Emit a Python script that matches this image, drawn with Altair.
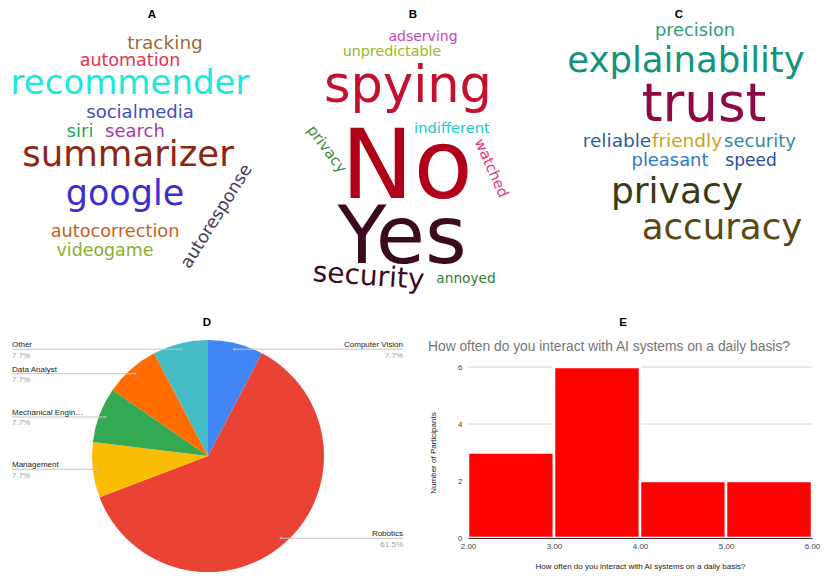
import altair as alt
import pandas as pd

# ---------------- data ----------------
words_a = ["tracking", "automation", "recommender", "socialmedia", "siri", "search",
           "summarizer", "google", "autocorrection", "videogame", "autoresponse"]
words_b = ["adserving", "unpredictable", "spying", "indifferent", "privacy", "watched",
           "No", "Yes", "security", "annoyed"]
words_c = ["precision", "explainability", "trust", "reliable", "friendly", "security",
           "pleasant", "speed", "privacy", "accuracy"]

fields = ["Computer Vision", "Robotics", "Management", "Mechanical Engin\u2026", "Data Analyst", "Other"]
field_counts = [1, 8, 1, 1, 1, 1]
field_colors = ["#4285F4", "#EA4335", "#FBBC04", "#34A853", "#FF6D01", "#46BDC6"]

bin_start = [2, 3, 4, 5]
bin_end = [3, 4, 5, 6]
participants = [3, 6, 2, 2]
grid_values = [2, 4, 6]

hist_question = "How often do you interact with AI systems on a daily basis?"
panel_letters = ["A", "B", "C", "D", "E"]

# ---------------- layout (reference-pixel coordinates) ----------------
# (x, baseline y, font size, angle, colour)
layout_a = [
    (165, 49, 18.5, 0, "#a06a35"),
    (130, 66, 17.5, 0, "#e5334b"),
    (130, 94, 34, 0, "#1ee8dc"),
    (140, 118, 18, 0, "#3b4fc4"),
    (80, 137, 18, 0, "#17a860"),
    (135, 137, 18, 0, "#a8389e"),
    (128, 166, 35.5, 0, "#8b2812"),
    (125, 205, 35, 0, "#3b2fd0"),
    (115, 237, 17.7, 0, "#c65f26"),
    (105, 256, 17.4, 0, "#8bb02c"),
    (221, 219, 17.5, 302, "#4b3a5c"),
]
layout_b = [
    (423, 41, 14, 0, "#c444c8"),
    (392, 56, 14.3, 0, "#9ab922"),
    (408, 102, 51, 0, "#c2102e"),
    (452, 133, 14.7, 0, "#20c9cc"),
    (323, 152, 15, 53, "#3c8a3c"),
    (487, 170, 14.7, 66, "#e5337d"),
    (407, 198, 97, 0, "#b2001a"),
    (402, 263, 80, 0, "#3b0a1e"),
    (368, 285, 28, 4, "#3b0a1e"),
    (466, 283, 13.7, 0, "#2f7a30"),
]
layout_c = [
    (695, 36, 17.8, 0, "#2f9b7c"),
    (686, 72, 35.5, 0, "#13937b"),
    (704, 121, 53, 0, "#8c0b45"),
    (617, 147, 18.5, 0, "#2c5ea6"),
    (687, 147, 18.5, 0, "#c9a11b"),
    (760, 147, 18, 0, "#2b8ba3"),
    (670, 166, 17.9, 0, "#2c7bc4"),
    (751, 166, 17, 0, "#274d9e"),
    (677, 203, 36, 0, "#3a3b12"),
    (722, 239, 35.6, 0, "#5b4913"),
]
letter_pos = [(152, 15), (413, 15), (679, 15), (207, 323), (623, 323)]

W, H = 815, 570
REFX = alt.Scale(domain=[8, 823], range=[0, 815], zero=False, nice=False)
REFY = alt.Scale(domain=[8, 578], range=[0, 570], zero=False, nice=False)

# pie geometry (canvas px)
CX, CY, R, RD = 200, 448, 116, 110
LX, RX = 4, 395

# histogram scales (canvas px)
HX = alt.Scale(domain=[2, 6], range=[460, 804], zero=False, nice=False, padding=0)
HY = alt.Scale(domain=[0, 6], range=[530, 359], zero=False, nice=False, padding=0)

# ---------------- word clouds ----------------
rows = []
for ws, lay in ((words_a, layout_a), (words_b, layout_b), (words_c, layout_c)):
    for w, (x, y, s, a, c) in zip(ws, lay):
        rows.append(dict(word=w, x=x, y=y, size=s, angle=a, color=c))
words_df = pd.DataFrame(rows)

words = alt.Chart(words_df).mark_text(font="DejaVu Sans", align="center", baseline="alphabetic").encode(
    x=alt.X("x:Q", scale=REFX, axis=None),
    y=alt.Y("y:Q", scale=REFY, axis=None),
    text="word:N",
    size=alt.Size("size:Q", scale=None, legend=None),
    angle=alt.Angle("angle:Q", scale=None),
    color=alt.Color("color:N", scale=None, legend=None),
)

letters_df = pd.DataFrame(dict(t=panel_letters, x=[p[0] for p in letter_pos], y=[p[1] for p in letter_pos]))
letters = alt.Chart(letters_df).mark_text(font="Liberation Sans", fontWeight="bold", fontSize=11.5,
                                          baseline="middle", color="#000").encode(
    x=alt.X("x:Q", scale=REFX, axis=None),
    y=alt.Y("y:Q", scale=REFY, axis=None),
    text="t:N",
)

# ---------------- pie (D) ----------------
pie_df = pd.DataFrame(dict(idx=list(range(len(fields))), cat=fields, count=field_counts))
pie = alt.Chart(pie_df).mark_arc(outerRadius=R).encode(
    theta=alt.Theta("count:Q", stack=True),
    color=alt.Color("cat:N", scale=alt.Scale(domain=fields, range=field_colors), legend=None),
    order=alt.Order("idx:Q"),
    x=alt.value(CX),
    y=alt.value(CY),
)

lab = alt.Chart(pie_df).transform_joinaggregate(
    total="sum(count)"
).transform_window(
    cum="sum(count)", sort=[alt.SortField("idx")], frame=[None, 0]
).transform_calculate(
    mid="(datum.cum - datum.count/2) / datum.total * 2 * PI",
).transform_calculate(
    px=f"{CX} + {RD} * sin(datum.mid)",
    py=f"{CY} - {RD} * cos(datum.mid)",
    left="datum.mid > PI",
    edge=f"datum.mid > PI ? {LX} : {RX}",
    pct="format(datum.count / datum.total, '.1%')",
).transform_calculate(
    ny="datum.py - 2",
    qy="datum.py + 8.5",
)

lines = lab.mark_rule(color="#c4c4c4", strokeWidth=1).encode(
    x=alt.X("px:Q", scale=None, axis=None), x2="edge:Q",
    y=alt.Y("py:Q", scale=None, axis=None),
)
dots = lab.mark_circle(size=7, color="#b0b0b0", opacity=1).encode(
    x=alt.X("px:Q", scale=None, axis=None),
    y=alt.Y("py:Q", scale=None, axis=None),
)
name_left = lab.transform_filter("datum.left").mark_text(
    align="left", baseline="alphabetic", font="Liberation Sans", fontSize=8, color="#222").encode(
    x=alt.X("edge:Q", scale=None, axis=None), y=alt.Y("ny:Q", scale=None, axis=None), text="cat:N")
name_right = lab.transform_filter("!datum.left").mark_text(
    align="right", baseline="alphabetic", font="Liberation Sans", fontSize=8, color="#222").encode(
    x=alt.X("edge:Q", scale=None, axis=None), y=alt.Y("ny:Q", scale=None, axis=None), text="cat:N")
pct_left = lab.transform_filter("datum.left").mark_text(
    align="left", baseline="alphabetic", font="Liberation Sans", fontSize=8, color="#a0a0a0").encode(
    x=alt.X("edge:Q", scale=None, axis=None), y=alt.Y("qy:Q", scale=None, axis=None), text="pct:N")
pct_right = lab.transform_filter("!datum.left").mark_text(
    align="right", baseline="alphabetic", font="Liberation Sans", fontSize=8, color="#a0a0a0").encode(
    x=alt.X("edge:Q", scale=None, axis=None), y=alt.Y("qy:Q", scale=None, axis=None), text="pct:N")

# ---------------- histogram (E) ----------------
hist_df = pd.DataFrame(dict(start=bin_start, end=bin_end, n=participants, base=[0] * len(participants)))

grid_df = pd.DataFrame(dict(g=grid_values, a=[min(bin_start)] * len(grid_values),
                            b=[max(bin_end)] * len(grid_values)))
grid = alt.Chart(grid_df).mark_rule(color="#d4d4d4", strokeWidth=1).encode(
    y=alt.Y("g:Q", scale=HY, axis=None),
    x=alt.X("a:Q", scale=HX, axis=None),
    x2="b:Q",
)

x_axis = alt.Axis(orient="bottom", offset=-40, values=[2, 3, 4, 5, 6], format=".2f",
                  labelFontSize=8, labelFont="Liberation Sans", labelColor="#444", labelPadding=4,
                  ticks=False, tickSize=0, domainColor="#333", domainWidth=1, grid=False,
                  labelFlush=False, labelOverlap=False,
                  title=hist_question, titleFontSize=8, titleFont="Liberation Sans",
                  titleFontWeight="normal", titleColor="#222", titlePadding=12, zindex=1)
y_axis = alt.Axis(orient="left", offset=-460, values=[0, 2, 4, 6],
                  labelFontSize=8, labelFont="Liberation Sans", labelColor="#444", labelPadding=6,
                  ticks=False, tickSize=0, domain=False, grid=False,
                  title="Number of Participants", titleFontSize=8, titleFont="Liberation Sans",
                  titleFontWeight="normal", titleColor="#222", titlePadding=20)

bars = alt.Chart(hist_df).mark_bar(color="#ff0000", stroke="white", strokeWidth=2.5,
                                   orient="vertical").encode(
    x=alt.X("start:Q", scale=HX, axis=x_axis),
    x2="end:Q",
    y=alt.Y("n:Q", scale=HY, axis=y_axis),
    y2="base:Q",
)

title_df = pd.DataFrame(dict(t=[hist_question], x=[428], y=[347]))
hist_title = alt.Chart(title_df).mark_text(
    align="left", baseline="middle", font="Liberation Sans", fontSize=13.8, color="#757575").encode(
    x=alt.X("x:Q", scale=REFX, axis=None),
    y=alt.Y("y:Q", scale=REFY, axis=None),
    text="t:N",
)

chart = alt.layer(
    words, letters, pie, lines, dots, name_left, name_right, pct_left, pct_right,
    grid, bars, hist_title
).resolve_scale(
    x="independent", y="independent", color="independent", theta="independent"
).properties(
    width=W, height=H, autosize=alt.AutoSizeParams(type="none"), padding=0
).configure_view(stroke=None)

chart.save("out.html", embed_options={"renderer": "svg", "actions": False})
